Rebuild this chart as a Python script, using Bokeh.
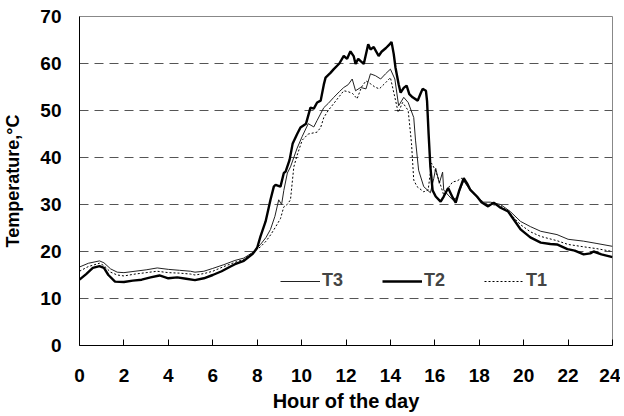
from bokeh.plotting import figure
from bokeh.models import Range1d, Legend, LegendItem, FixedTicker
from bokeh.embed import file_html
from bokeh.resources import INLINE

# ---- data ----
t2_hours = [0.0, 0.3, 0.6, 0.9, 1.1, 1.3, 1.6, 2.0, 2.4, 2.8, 3.2, 3.6, 4.0, 4.4, 4.8, 5.2, 5.6,
            6.0, 6.4, 6.8, 7.0, 7.4, 7.8, 8.0, 8.15, 8.38, 8.6, 8.75, 8.83, 9.05, 9.2, 9.28, 9.46,
            9.6, 9.8, 9.95, 10.2, 10.4, 10.55, 10.7, 10.86, 11.0, 11.08, 11.3, 11.45, 11.7, 11.9,
            12.05, 12.2, 12.35, 12.43, 12.55, 12.66, 12.8, 13.0, 13.1, 13.25, 13.47, 13.6, 13.8,
            13.95, 14.05, 14.15, 14.23, 14.37, 14.46, 14.6, 14.73, 14.85, 15.0, 15.23, 15.35,
            15.45, 15.6, 15.65, 15.72, 15.8, 15.9, 16.04, 16.26, 16.4, 16.6, 16.8, 16.94, 17.1,
            17.3, 17.45, 17.6, 17.9, 18.1, 18.4, 18.65, 18.96, 19.3, 19.6, 19.86, 20.3, 20.77,
            21.2, 21.5, 21.97, 22.3, 22.7, 23.0, 23.15, 23.5, 24.0]
t2_temp = [14.0, 15.2, 16.5, 16.9, 16.5, 15.0, 13.6, 13.5, 13.8, 14.0, 14.5, 14.9, 14.3, 14.5, 14.2,
           13.9, 14.3, 15.0, 15.8, 16.8, 17.3, 18.0, 19.5, 20.8, 23.2, 26.4, 31.0, 33.8, 34.2, 33.8,
           36.7, 37.0, 39.5, 43.0, 45.0, 46.4, 47.2, 50.6, 50.4, 51.7, 52.1, 55.5, 57.0, 58.0, 58.8,
           60.0, 61.6, 61.0, 62.6, 61.5, 59.9, 61.0, 60.5, 59.9, 64.1, 63.0, 63.5, 61.6, 62.5, 63.3,
           64.0, 64.6, 62.0, 59.1, 55.6, 53.8, 54.8, 55.3, 53.5, 52.8, 52.1, 53.5, 54.6, 54.2, 52.0,
           45.0, 38.0, 33.0, 31.7, 30.6, 31.7, 33.5, 31.5, 30.4, 33.0, 35.6, 34.5, 33.1, 31.7, 30.5,
           29.6, 30.4, 29.3, 28.5, 26.5, 24.7, 23.0, 21.9, 21.6, 21.5, 20.5, 20.2, 19.4, 19.6, 20.0,
           19.4, 18.8]

t3_hours = [0.0, 0.4, 0.9, 1.1, 1.4, 1.7, 2.0, 2.5, 3.0, 3.5, 4.0, 4.5, 5.0, 5.2, 5.6, 6.0, 6.5,
            7.0, 7.4, 7.8, 8.15, 8.4, 8.6, 8.8, 8.97, 9.1, 9.2, 9.36, 9.5, 9.65, 9.8, 10.03, 10.3,
            10.55, 10.7, 11.0, 11.2, 11.45, 11.7, 11.9, 12.1, 12.28, 12.43, 12.66, 12.9, 13.1,
            13.33, 13.56, 13.78, 14.0, 14.2, 14.37, 14.6, 14.8, 15.05, 15.13, 15.27, 15.5, 15.8,
            15.95, 16.04, 16.2, 16.35, 16.4, 16.6, 16.8, 17.0, 17.3, 17.6, 17.9, 18.2, 18.5, 18.96,
            19.4, 19.86, 20.3, 20.77, 21.5, 22.0, 22.7, 23.3, 24.0]
t3_temp = [16.7, 17.5, 18.0, 17.6, 16.3, 15.6, 15.5, 15.8, 16.1, 16.5, 16.2, 16.0, 15.8, 15.6, 15.8,
           16.4, 17.2, 18.1, 18.6, 19.8, 21.5, 23.0, 24.7, 27.5, 31.0, 30.0, 33.0, 36.7, 38.0, 40.0,
           42.0, 44.5, 47.2, 46.5, 47.9, 50.6, 51.5, 52.8, 54.0, 54.9, 55.5, 56.7, 54.2, 54.9, 54.6,
           57.8, 57.4, 56.7, 57.8, 58.8, 56.7, 51.0, 52.8, 51.7, 48.5, 43.7, 37.3, 33.8, 32.5, 35.5,
           37.7, 34.5, 36.9, 33.1, 32.0, 31.0, 31.5, 35.0, 33.0, 31.5, 30.5, 30.5, 30.0, 28.5, 26.4,
           25.3, 24.3, 23.6, 22.6, 22.2, 21.7, 21.1]

t1_hours = [0.0, 0.4, 0.9, 1.1, 1.4, 1.7, 2.0, 2.5, 3.0, 3.5, 4.0, 4.5, 5.0, 5.2, 5.6, 6.0, 6.5,
            7.0, 7.4, 7.8, 8.15, 8.4, 8.6, 8.8, 9.05, 9.2, 9.35, 9.5, 9.65, 9.8, 10.03, 10.3, 10.7,
            10.86, 11.0, 11.2, 11.45, 11.7, 11.9, 12.1, 12.3, 12.5, 12.7, 12.9, 13.1, 13.3, 13.5,
            13.8, 14.0, 14.2, 14.35, 14.55, 14.8, 14.95, 15.05, 15.2, 15.5, 15.7, 15.85, 16.0, 16.2,
            16.4, 16.6, 16.8, 17.0, 17.2, 17.5, 17.8, 18.2, 18.5, 18.96, 19.4, 19.86, 20.3, 20.77,
            21.5, 22.0, 22.7, 23.3, 24.0]
t1_temp = [15.8, 16.8, 17.5, 17.0, 15.6, 15.0, 14.8, 15.2, 15.5, 15.8, 15.5, 15.4, 15.2, 15.0, 15.3,
           15.8, 16.8, 17.7, 18.3, 19.8, 21.0, 22.2, 23.5, 25.0, 27.0, 29.5, 30.0, 31.0, 38.0, 40.5,
           43.7, 45.0, 45.4, 46.4, 48.5, 50.0, 51.5, 53.0, 54.2, 54.0, 53.6, 52.5, 55.0, 56.3, 55.7,
           55.0, 54.6, 56.0, 57.0, 52.8, 49.6, 51.7, 50.0, 43.0, 35.2, 33.8, 32.7, 33.1, 38.8, 37.5,
           35.0, 32.0, 33.5, 34.8, 35.0, 35.6, 34.0, 32.0, 30.2, 30.0, 29.8, 28.0, 25.7, 24.2, 23.2,
           22.3, 21.5, 21.0, 20.6, 20.0]

x_ticks = list(range(0, 25, 2))
y_ticks = list(range(0, 71, 10))
grid_levels = [10, 20, 30, 40, 50, 60]

FONT = "Liberation Sans"

p = figure(width=620, height=414, output_backend="svg", toolbar_location=None,
           x_range=Range1d(0, 24), y_range=Range1d(0, 70),
           min_border_left=79, min_border_right=8, min_border_top=16, min_border_bottom=67)

p.outline_line_color = "#888888"
p.outline_line_width = 1
p.background_fill_color = "white"
p.border_fill_color = "white"

p.xgrid.visible = False
p.ygrid.ticker = FixedTicker(ticks=grid_levels)
p.ygrid.grid_line_color = "#555555"
p.ygrid.grid_line_dash = "9 6"
p.ygrid.grid_line_width = 1

p.xaxis.ticker = FixedTicker(ticks=x_ticks)
p.yaxis.ticker = FixedTicker(ticks=y_ticks)
for ax in (p.xaxis[0], p.yaxis[0]):
    ax.axis_line_color = "black"
    ax.axis_line_width = 1
    ax.major_label_text_font = FONT
    ax.major_label_text_font_style = "bold"
    ax.major_label_text_font_size = "19px"
    ax.major_label_text_color = "black"
    ax.axis_label_text_font = FONT
    ax.axis_label_text_font_style = "bold"
    ax.axis_label_text_color = "black"
    ax.minor_tick_line_color = None

p.xaxis.major_tick_in = 6
p.xaxis.major_tick_out = 0
p.xaxis.major_tick_line_color = "black"
p.xaxis.major_label_standoff = 23
p.xaxis.axis_label = "Hour of the day"
p.xaxis.axis_label_text_font_size = "20px"
p.xaxis.axis_label_standoff = 5

p.yaxis.major_tick_line_color = None
p.yaxis.major_tick_in = 0
p.yaxis.major_tick_out = 0
p.yaxis.major_label_standoff = 18
p.yaxis.axis_label = "Temperature,°C"
p.yaxis.axis_label_text_font_size = "18px"
p.yaxis.axis_label_standoff = 14

r3 = p.line(t3_hours, t3_temp, line_color="#222222", line_width=1)
r2 = p.line(t2_hours, t2_temp, line_color="black", line_width=2.4)
r1 = p.line(t1_hours, t1_temp, line_color="black", line_width=1, line_dash="2 2")

legend = Legend(items=[LegendItem(label="T3", renderers=[r3]),
                       LegendItem(label="T2", renderers=[r2]),
                       LegendItem(label="T1", renderers=[r1])],
                orientation="horizontal", location=(201, 54),
                glyph_width=40, label_standoff=2, spacing=39,
                padding=0, margin=0,
                label_text_font=FONT, label_text_font_style="bold",
                label_text_font_size="18px",
                background_fill_alpha=0, border_line_color=None)
p.add_layout(legend, "center")

open("out.html", "w").write(file_html(p, INLINE))
